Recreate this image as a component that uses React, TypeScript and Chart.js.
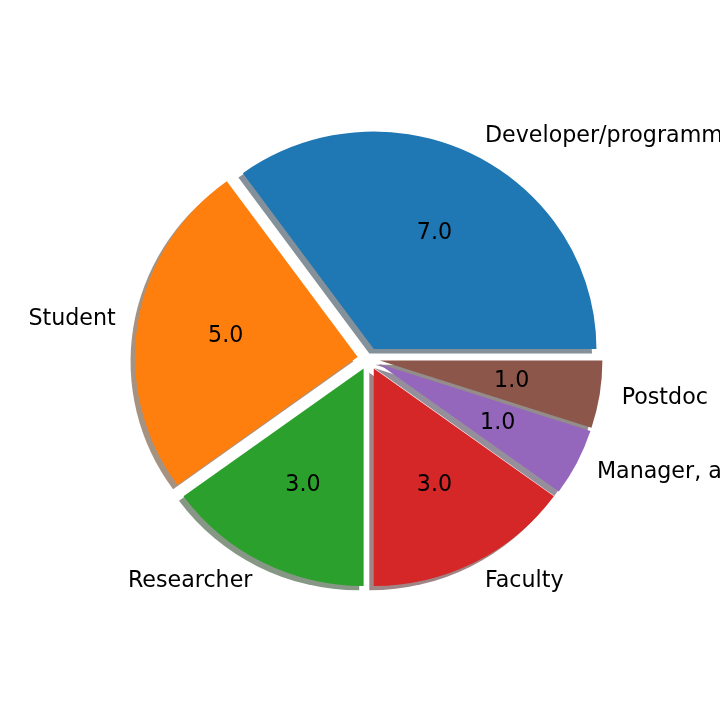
import React, { useEffect, useRef } from "react";
import { Chart, registerables } from "chart.js";

Chart.register(...registerables);

// Data (matplotlib order: counter-clockwise from 3 o'clock)
const categories = [
  "Developer/programmer",
  "Student",
  "Researcher",
  "Faculty",
  "Manager, administrator",
  "Postdoc",
];
const counts = [7, 5, 3, 3, 1, 1];
const sliceColors = ["#1f77b4", "#ff7f0e", "#2ca02c", "#d62728", "#9467bd", "#8c564b"];

const EXPLODE = 0.05;
const LABEL_DIST = 1.1;
const PCT_DIST = 0.6;
const SHADOW = 0.02;
const RADIUS_Y = 217.5;
const KX = 222.7 / 217.5;
const FONT = '22.2px "DejaVu Sans"';

function hexToRgb(h: string) {
  const n = parseInt(h.slice(1), 16);
  return [(n >> 16) & 255, (n >> 8) & 255, n & 255];
}

const mplPie = {
  id: "mplPie",
  beforeDatasetsDraw(chart: any) {
    const meta = chart.getDatasetMeta(0);
    const ctx: CanvasRenderingContext2D = chart.ctx;
    const ds = chart.data.datasets[0];
    const arcs = meta.data;
    const geo = arcs.map((arc: any) =>
      arc.getProps(["x", "y", "startAngle", "endAngle", "outerRadius"], true)
    );
    const path = (g: any, dx: number, dy: number) => {
      const mid = (g.startAngle + g.endAngle) / 2;
      const d = EXPLODE * g.outerRadius;
      ctx.save();
      ctx.translate(g.x, g.y);
      ctx.scale(KX, 1);
      ctx.translate(Math.cos(mid) * d + dx, Math.sin(mid) * d + dy);
      ctx.beginPath();
      ctx.moveTo(0, 0);
      ctx.arc(0, 0, g.outerRadius, g.startAngle, g.endAngle);
      ctx.closePath();
    };
    // shadows
    geo.forEach((g: any, i: number) => {
      const [r, gg, b] = hexToRgb(ds.backgroundColor[i]);
      path(g, -SHADOW * g.outerRadius, SHADOW * g.outerRadius);
      ctx.fillStyle = `rgba(${0.3 * r},${0.3 * gg},${0.3 * b},0.5)`;
      ctx.fill();
      ctx.restore();
    });
    // wedges
    geo.forEach((g: any, i: number) => {
      path(g, 0, 0);
      ctx.fillStyle = ds.backgroundColor[i];
      ctx.fill();
      ctx.restore();
    });
    // texts
    ctx.save();
    ctx.font = FONT;
    ctx.fillStyle = "#000000";
    ctx.textBaseline = "middle";
    geo.forEach((g: any, i: number) => {
      const mid = (g.startAngle + g.endAngle) / 2;
      const c = Math.cos(mid);
      const s = Math.sin(mid);
      const R = g.outerRadius;
      const lx = g.x + KX * R * (EXPLODE + LABEL_DIST) * c;
      const ly = g.y + R * (EXPLODE + LABEL_DIST) * s;
      ctx.textAlign = c > 0 ? "left" : "right";
      ctx.fillText(chart.data.labels[i], lx, ly);
      const px = g.x + KX * R * (EXPLODE + PCT_DIST) * c;
      const py = g.y + R * (EXPLODE + PCT_DIST) * s;
      ctx.textAlign = "center";
      ctx.fillText(Number(ds.data[i]).toFixed(1), px, py);
    });
    ctx.restore();
    return false;
  },
};

export default function App() {
  const ref = useRef<HTMLCanvasElement | null>(null);
  useEffect(() => {
    document.body.style.margin = "0";
    const canvas = ref.current;
    if (!canvas) return;
    // Chart.js draws clockwise, so reverse the order to match counter-clockwise layout
    const labels = [...categories].reverse();
    const values = [...counts].reverse();
    const colors = [...sliceColors].reverse();
    const chart = new Chart(canvas, {
      type: "pie",
      data: {
        labels,
        datasets: [
          {
            data: values,
            backgroundColor: colors,
            borderWidth: 0,
          },
        ],
      },
      options: {
        responsive: false,
        animation: false,
        rotation: 90,
        radius: RADIUS_Y,
        layout: { padding: { left: 17.4, right: 0, top: 0, bottom: 2.4 } },
        plugins: {
          legend: { display: false },
          tooltip: { enabled: false },
        },
      },
      plugins: [mplPie],
    });
    return () => chart.destroy();
  }, []);
  return (
    <div style={{ width: 720, height: 720, background: "#ffffff" }}>
      <canvas ref={ref} width={720} height={720} style={{ display: "block" }} />
    </div>
  );
}
